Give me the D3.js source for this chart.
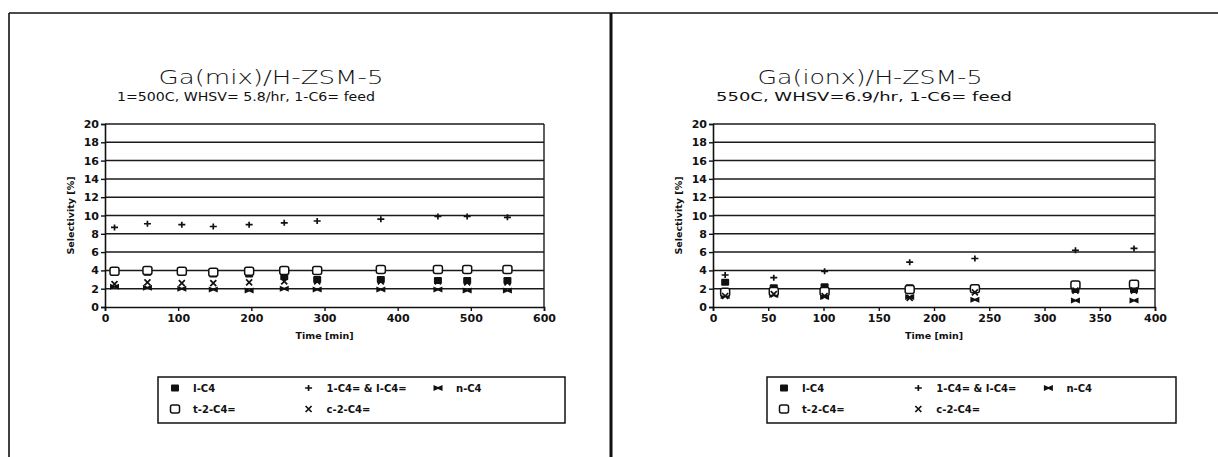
<!DOCTYPE html>
<html>
<head>
<meta charset="utf-8">
<script src="https://cdn.jsdelivr.net/npm/d3@7/dist/d3.min.js"></script>
<style>
  html, body { margin: 0; padding: 0; background: #fff; }
  svg { display: block; }
  .tick text { font-family: "DejaVu Sans", sans-serif; font-weight: bold; font-size: 11px; fill: #111; }
</style>
</head>
<body>
<svg id="chart" width="1218" height="457"></svg>
<script>
// --- data ---
const seriesNames = ['I-C4', '1-C4= & I-C4=', 'n-C4', 't-2-C4=', 'c-2-C4='];
const seriesMarks = ['fillsq', 'plus', 'bowtie', 'opensq', 'cross'];

// left panel: Ga(mix)/H-ZSM-5
const mixTime = [13, 58, 105, 148, 197, 245, 290, 377, 455, 495, 550];
const mixIC4 = [3.8, 3.8, 3.8, 3.6, 3.6, 3.3, 3.0, 3.0, 2.9, 2.9, 2.9];
const mixC4ene = [8.7, 9.1, 9.0, 8.8, 9.0, 9.2, 9.4, 9.6, 9.9, 9.9, 9.8];
const mixNC4 = [2.2, 2.1, 2.0, 1.9, 1.8, 2.0, 1.9, 1.9, 1.9, 1.8, 1.8];
const mixT2 = [3.9, 4.0, 3.9, 3.8, 3.9, 4.0, 4.0, 4.1, 4.1, 4.1, 4.1];
const mixC2 = [2.5, 2.7, 2.6, 2.6, 2.7, 2.8, 2.8, 2.8, 2.8, 2.7, 2.7];
const mixXTicks = [0, 100, 200, 300, 400, 500, 600];

// right panel: Ga(ionx)/H-ZSM-5
const ionTime = [11, 55, 101, 178, 237, 328, 381];
const ionIC4 = [2.7, 2.1, 2.2, 2.1, 2.1, 1.9, 1.9];
const ionC4ene = [3.5, 3.2, 3.9, 4.9, 5.3, 6.2, 6.4];
const ionNC4 = [1.2, 1.3, 1.1, 1.1, 0.8, 0.7, 0.7];
const ionT2 = [1.6, 1.7, 1.7, 1.9, 2.0, 2.4, 2.5];
const ionC2 = [1.2, 1.4, 1.2, 1.0, 1.6, 1.8, 1.8];
const ionXTicks = [0, 50, 100, 150, 200, 250, 300, 350, 400];

const yTicks = [0, 2, 4, 6, 8, 10, 12, 14, 16, 18, 20];

const panels = [
  { title: 'Ga(mix)/H-ZSM-5', sub: '1=500C,  WHSV= 5.8/hr,  1-C6= feed', titleX: 271, subX: 246, subW: 258,
    x0: 105, x1: 544, xMax: 600, xTicks: mixXTicks, t: mixTime,
    ys: [mixIC4, mixC4ene, mixNC4, mixT2, mixC2], leg: [158, 565] },
  { title: 'Ga(ionx)/H-ZSM-5', sub: '550C,  WHSV=6.9/hr,  1-C6= feed', titleX: 870, subX: 864, subW: 296,
    x0: 713, x1: 1155, xMax: 400, xTicks: ionXTicks, t: ionTime,
    ys: [ionIC4, ionC4ene, ionNC4, ionT2, ionC2], leg: [767, 1176] },
];
const PT = 124, PB = 307;

const svg = d3.select('#chart');
svg.append('rect').attr('width', 1218).attr('height', 457).attr('fill', '#fff');

// page frame
const frame = svg.append('g').attr('stroke', '#111').attr('fill', 'none');
frame.append('line').attr('x1', 9).attr('y1', 13).attr('x2', 1218).attr('y2', 13).attr('stroke-width', 1.6);
frame.append('line').attr('x1', 9).attr('y1', 13).attr('x2', 9).attr('y2', 457).attr('stroke-width', 1.6);
frame.append('line').attr('x1', 611).attr('y1', 13).attr('x2', 611).attr('y2', 457).attr('stroke-width', 3);

function marker(g, kind, x, y) {
  if (kind === 'fillsq') {
    g.append('rect').attr('x', x - 4).attr('y', y - 3.5).attr('width', 8).attr('height', 7).attr('rx', 1).attr('fill', '#111');
  } else if (kind === 'opensq') {
    g.append('rect').attr('x', x - 4.5).attr('y', y - 4).attr('width', 9).attr('height', 8).attr('rx', 2)
      .attr('fill', '#fff').attr('stroke', '#111').attr('stroke-width', 1.5);
  } else if (kind === 'plus') {
    g.append('path').attr('d', `M${x - 3.5},${y}H${x + 3.5}M${x},${y - 3}V${y + 3}`).attr('stroke', '#111').attr('stroke-width', 1.7);
  } else if (kind === 'cross') {
    g.append('path').attr('d', `M${x - 3},${y - 3}L${x + 3},${y + 3}M${x + 3},${y - 3}L${x - 3},${y + 3}`).attr('stroke', '#111').attr('stroke-width', 1.7);
  } else if (kind === 'bowtie') {
    g.append('path').attr('d', `M${x - 4.5},${y - 3}L${x},${y - 1}L${x + 4.5},${y - 3}L${x + 4.5},${y + 3}L${x},${y + 1}L${x - 4.5},${y + 3}Z`).attr('fill', '#111');
  }
}

panels.forEach((p) => {
  const x = d3.scaleLinear().domain([0, p.xMax]).range([p.x0, p.x1]);
  const y = d3.scaleLinear().domain([0, 20]).range([PB, PT]);
  const g = svg.append('g');

  g.append('text').attr('x', p.titleX).attr('y', 84).attr('text-anchor', 'middle')
    .attr('textLength', 225).attr('lengthAdjust', 'spacingAndGlyphs')
    .attr('font-family', 'DejaVu Sans, sans-serif').attr('font-weight', 200).attr('font-size', 20).attr('fill', '#111').text(p.title);
  g.append('text').attr('x', p.subX).attr('y', 101).attr('text-anchor', 'middle')
    .attr('textLength', p.subW).attr('lengthAdjust', 'spacingAndGlyphs')
    .attr('font-family', 'DejaVu Sans, sans-serif').attr('font-size', 13).attr('fill', '#111').text(p.sub);

  // gridlines
  g.append('g').selectAll('line').data(yTicks.slice(1)).join('line')
    .attr('x1', p.x0).attr('x2', p.x1).attr('y1', (d) => y(d)).attr('y2', (d) => y(d))
    .attr('stroke', '#1a1a1a').attr('stroke-width', 1.5);
  g.append('line').attr('x1', p.x1).attr('x2', p.x1).attr('y1', PT).attr('y2', PB).attr('stroke', '#1a1a1a').attr('stroke-width', 1.4);

  const ya = g.append('g').attr('transform', `translate(${p.x0},0)`)
    .call(d3.axisLeft(y).tickValues(yTicks).tickSize(4).tickPadding(2));
  const xa = g.append('g').attr('transform', `translate(0,${PB})`)
    .call(d3.axisBottom(x).tickValues(p.xTicks).tickSize(4).tickPadding(3));
  [ya, xa].forEach((a) => { a.select('.domain').attr('stroke', '#111').attr('stroke-width', 1.6); a.selectAll('.tick line').attr('stroke', '#111').attr('stroke-width', 1.4); });

  g.append('text').attr('x', (p.x0 + p.x1) / 2).attr('y', 339).attr('text-anchor', 'middle')
    .attr('font-family', 'DejaVu Sans, sans-serif').attr('font-weight', 'bold').attr('font-size', 9.5).attr('fill', '#111').text('Time [min]');
  g.append('text').attr('transform', `translate(${p.x0 - 31},${(PT + PB) / 2}) rotate(-90)`).attr('text-anchor', 'middle')
    .attr('font-family', 'DejaVu Sans, sans-serif').attr('font-weight', 'bold').attr('font-size', 9.5).attr('fill', '#111').text('Selectivity [%]');

  // points
  const pts = g.append('g');
  p.ys.forEach((vals, si) => {
    vals.forEach((v, i) => marker(pts, seriesMarks[si], x(p.t[i]), y(v)));
  });

  // legend
  const lg = g.append('g');
  const [lx0, lx1] = p.leg;
  lg.append('rect').attr('x', lx0).attr('y', 377).attr('width', lx1 - lx0).attr('height', 46)
    .attr('fill', 'none').attr('stroke', '#111').attr('stroke-width', 1.5);
  const w = lx1 - lx0;
  const cols = [lx0 + 17, lx0 + w * 0.37, lx0 + w * 0.688];
  const pos = [[0, 0], [1, 0], [2, 0], [0, 1], [1, 1]];
  seriesNames.forEach((name, si) => {
    const cx = cols[pos[si][0]], cy = 388 + pos[si][1] * 21;
    marker(lg, seriesMarks[si], cx, cy);
    lg.append('text').attr('x', cx + 18).attr('y', cy + 4)
      .attr('font-family', 'DejaVu Sans, sans-serif').attr('font-weight', 'bold').attr('font-size', 10).attr('fill', '#111').text(name);
  });
});
</script>
</body>
</html>
